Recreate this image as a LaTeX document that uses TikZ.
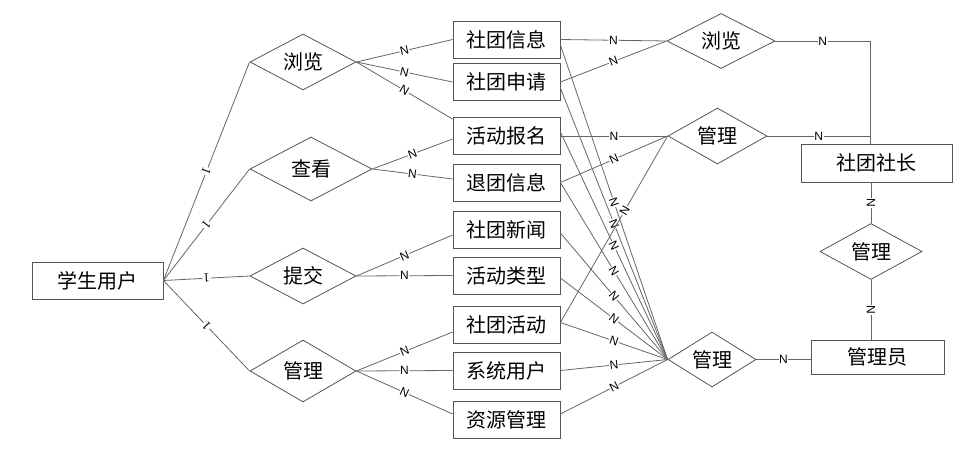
\documentclass[tikz,border=0pt]{standalone}
\usepackage{fontspec}
\newfontfamily\cjk{Noto Sans CJK SC}
\newfontfamily\lsans{Liberation Sans}
\newfontfamily\lserif{Liberation Serif}
\usetikzlibrary{shapes.geometric}
\definecolor{ln}{HTML}{666666}
\definecolor{bd}{HTML}{555555}
\tikzset{
 ent/.style={draw=bd, line width=0.8pt, inner sep=0pt, minimum width=107pt, minimum height=37pt, font=\cjk\fontsize{20}{20}\selectfont},
 rel/.style={diamond, draw=bd, line width=0.8pt, inner sep=0pt, aspect=2, font=\cjk\fontsize{20}{20}\selectfont},
 conn/.style={draw=ln, line width=0.8pt},
 nl/.style={fill=white, inner sep=0.6pt, font=\lsans\fontsize{12}{12}\selectfont, sloped},
 ol/.style={fill=white, inner sep=0.8pt, font=\lserif\fontsize{13}{13}\selectfont, sloped, allow upside down},
}
\begin{document}
\begin{tikzpicture}[x=1pt,y=-1pt]
\useasboundingbox (0,0) rectangle (977,466);
% entities
\node[ent, minimum width=131pt] (stu) at (97.5,280.5) {学生用户};
\node[ent] (e1) at (506.5,39.5) {社团信息};
\node[ent] (e2) at (506.5,82) {社团申请};
\node[ent] (e3) at (506.5,136) {活动报名};
\node[ent] (e4) at (506.5,182.5) {退团信息};
\node[ent] (e5) at (506.5,229.5) {社团新闻};
\node[ent] (e6) at (506.5,275.5) {活动类型};
\node[ent] (e7) at (506.5,324.5) {社团活动};
\node[ent] (e8) at (506.5,370.5) {系统用户};
\node[ent] (e9) at (506.5,419.5) {资源管理};
\node[ent, minimum width=151pt, minimum height=38pt] (sz) at (876.5,163) {社团社长};
\node[ent, minimum width=133pt, minimum height=34pt] (gly) at (877.5,357) {管理员};
% relationships
\node[rel, minimum width=106pt, minimum height=56pt] (browseL) at (303,62) {浏览};
\node[rel, minimum width=122pt, minimum height=64pt] (view) at (311,169) {查看};
\node[rel, minimum width=106pt, minimum height=56pt] (submit) at (303,276) {提交};
\node[rel, minimum width=106pt, minimum height=62pt] (manL) at (303,371) {管理};
\node[rel, minimum width=108pt, minimum height=55pt] (browseR) at (721,41) {浏览};
\node[rel, minimum width=99pt, minimum height=56pt] (manU) at (717.5,136) {管理};
\node[rel, minimum width=102pt, minimum height=56pt] (manM) at (871,251.5) {管理};
\node[rel, minimum width=88pt, minimum height=55pt] (manB) at (712,359.5) {管理};
% student links
\draw[conn] (browseL.west) -- node[ol]{1} (stu.east);
\draw[conn] (view.west) -- node[ol]{1} (stu.east);
\draw[conn] (submit.west) -- node[ol]{1} (stu.east);
\draw[conn] (manL.west) -- node[ol]{1} (stu.east);
% left relationships to entities
\draw[conn] (browseL.east) -- node[nl]{N} (e1.west);
\draw[conn] (browseL.east) -- node[nl]{N} (e2.west);
\draw[conn] (browseL.east) -- node[nl]{N} ([yshift=-2pt]e3.north west);
\draw[conn] (view.east) -- node[nl]{N} ([yshift=-3pt]e3.west);
\draw[conn] (view.east) -- node[nl]{N} ([yshift=3.5pt]e4.west);
\draw[conn] (submit.east) -- node[nl]{N} ([yshift=-5.5pt]e5.west);
\draw[conn] (submit.east) -- node[nl]{N} (e6.west);
\draw[conn] (manL.east) -- node[nl]{N} ([yshift=-7.5pt]e7.west);
\draw[conn] (manL.east) -- node[nl]{N} (e8.west);
\draw[conn] (manL.east) -- node[nl]{N} ([yshift=5.5pt]e9.west);
% entities to right relationships
\draw[conn] (e1.east) -- node[nl]{N} (browseR.west);
\draw[conn] (e2.east) -- node[nl]{N} (browseR.west);
\draw[conn] (e3.east) -- node[nl]{N} (manU.west);
\draw[conn] (e4.east) -- node[nl]{N} (manU.west);
% fan to bottom 管理
\draw[conn] ([yshift=-5.5pt]e1.east) -- node[nl]{N} (manB.west);
\draw[conn] ([yshift=-6pt]e2.east) -- node[nl]{N} (manB.west);
\draw[conn] ([yshift=4pt]e3.east) -- node[nl]{N} (manB.west);
\draw[conn] (e4.east) -- node[nl]{N} (manB.west);
\draw[conn] ([yshift=-3.5pt]e5.east) -- node[nl]{N} (manB.west);
\draw[conn] ([yshift=-2.5pt]e6.east) -- node[nl]{N} (manB.west);
\draw[conn] ([yshift=2pt]e7.east) -- node[nl]{N} (manB.west);
\draw[conn] (e8.east) -- node[nl]{N} (manB.west);
\draw[conn] ([yshift=5.5pt]e9.east) -- node[nl]{N} (manB.west);
\draw[conn] ([yshift=2pt]e7.east) -- node[nl, pos=0.6]{N} (manU.west);
% right side
\coordinate (szt) at ([xshift=-6.5pt]sz.north);
\draw[conn] (browseR.east) -- node[nl]{N} (browseR.east -| szt) -- (szt);
\draw[conn] (manU.east) -- node[nl]{N} (manU.east -| szt) -- (szt);
\draw[conn] ([xshift=-5.5pt]sz.south) -- node[nl]{N} (manM.north);
\draw[conn] (manM.south) -- node[nl]{N} ([xshift=-6.5pt]gly.north);
\draw[conn] (manB.east) -- node[nl]{N} (manB.east -| gly.west);
\end{tikzpicture}
\end{document}
